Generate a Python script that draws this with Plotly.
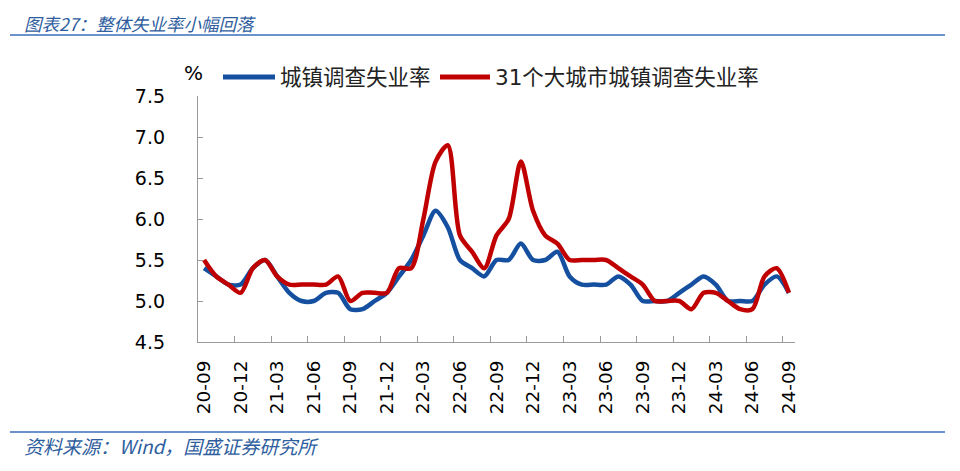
import plotly.graph_objects as go

# monthly labels 2020-09 .. 2024-09
months = [f"{y % 100:02d}-{m:02d}" for y in range(2020, 2025) for m in range(1, 13)]
months = months[months.index("20-09"):months.index("24-09") + 1]

urban_rate = [5.4, 5.3, 5.2, 5.2, 5.4, 5.5, 5.3, 5.1, 5.0, 5.0, 5.1, 5.1, 4.9, 4.9, 5.0, 5.1,
              5.3, 5.5, 5.8, 6.1, 5.9, 5.5, 5.4, 5.3, 5.5, 5.5, 5.7, 5.5, 5.5, 5.6, 5.3, 5.2,
              5.2, 5.2, 5.3, 5.2, 5.0, 5.0, 5.0, 5.1, 5.2, 5.3, 5.2, 5.0, 5.0, 5.0, 5.2, 5.3, 5.1]
city31_rate = [5.5, 5.3, 5.2, 5.1, 5.4, 5.5, 5.3, 5.2, 5.2, 5.2, 5.2, 5.3, 5.0, 5.1, 5.1, 5.1,
               5.4, 5.4, 6.0, 6.7, 6.9, 5.8, 5.6, 5.4, 5.8, 6.0, 6.7, 6.1, 5.8, 5.7, 5.5, 5.5,
               5.5, 5.5, 5.4, 5.3, 5.2, 5.0, 5.0, 5.0, 4.9, 5.1, 5.1, 5.0, 4.9, 4.9, 5.3, 5.4, 5.1]
series_names = ["城镇调查失业率", "31个大城市城镇调查失业率"]
y_ticks = [4.5, 5.0, 5.5, 6.0, 6.5, 7.0, 7.5]

tick_idx = list(range(0, len(months), 3))
tick_text = [months[i] for i in tick_idx]

# the page body adds an 8px margin, so the figure is shrunk by that much
OFF = 8
W, H = 960 - OFF, 471 - OFF
BLUE = "#1550A0"
RED = "#C00000"
CJK = "Noto Sans CJK SC"


def px(x):  # page x -> paper
    return (x - OFF) / W


def py(y):  # page y -> paper
    return 1 - (y - OFF) / H


x = list(range(len(months)))
fig = go.Figure()
for vals, name, color in [(urban_rate, series_names[0], BLUE), (city31_rate, series_names[1], RED)]:
    fig.add_trace(go.Scatter(x=x, y=vals, mode="lines", name=name, showlegend=False,
                             line=dict(color=color, width=4.5, shape="spline", smoothing=0.8)))

fig.update_layout(
    width=W, height=H, autosize=False,
    margin=dict(l=0, r=0, t=0, b=0, pad=0, autoexpand=False),
    plot_bgcolor="white", paper_bgcolor="white",
    font=dict(family=f"DejaVu Sans, {CJK}", color="#000"),
    showlegend=False,
    xaxis=dict(domain=[px(198), px(795)], range=[-0.5, len(months) - 0.5],
               tickmode="array", tickvals=tick_idx, ticktext=tick_text,
               tickangle=-90, ticks="", tickfont=dict(size=18.5), ticklabelstandoff=10,
               showline=True, linecolor="#999", linewidth=1.3, showgrid=False, zeroline=False,
               minor=dict(tickmode="array", tickvals=[i - 0.5 for i in tick_idx[1:]],
                          ticks="inside", ticklen=6, tickcolor="#999", tickwidth=1.3,
                          showgrid=False)),
    yaxis=dict(domain=[py(342), py(96)], range=[4.5, 7.5], tickmode="array",
               tickvals=y_ticks, ticktext=[f"{v:.1f}" for v in y_ticks],
               ticks="inside", ticklen=5, tickcolor="#999", tickwidth=1.3,
               tickfont=dict(size=19), ticklabelstandoff=28,
               showline=True, linecolor="#999", linewidth=1.3, showgrid=False, zeroline=False),
)

# legend drawn by hand: line sample + label
for (lx0, lx1, tx), name, color in [((223, 275, 278), series_names[0], BLUE),
                                    ((440, 490, 493), series_names[1], RED)]:
    fig.add_shape(type="line", xref="paper", yref="paper", x0=px(lx0), x1=px(lx1),
                  y0=py(77), y1=py(77), line=dict(color=color, width=5))
    fig.add_annotation(text=name, x=px(tx), y=py(77), xref="paper", yref="paper",
                       xanchor="left", yanchor="middle", showarrow=False,
                       font=dict(size=21.5, family=f"DejaVu Sans, {CJK}", color="#222"))

fig.add_annotation(text="%", x=px(193), y=py(73), xref="paper", yref="paper",
                   xanchor="center", yanchor="middle", showarrow=False, font=dict(size=20))

# header / footer
fig.add_annotation(text="<i>图表27：整体失业率小幅回落</i>", x=px(22), y=py(9),
                   xref="paper", yref="paper", xanchor="left", yanchor="top", showarrow=False,
                   font=dict(size=17.5, color="#2E5E9E", family=CJK))
fig.add_annotation(text="<i>资料来源：Wind，国盛证券研究所</i>", x=px(22), y=py(445),
                   xref="paper", yref="paper", xanchor="left", yanchor="middle", showarrow=False,
                   font=dict(size=19, color="#2E5E9E", family=CJK))
for ly in (35, 432):
    fig.add_shape(type="line", xref="paper", yref="paper", x0=px(10), x1=px(945),
                  y0=py(ly), y1=py(ly), line=dict(color="#6A93CC", width=2))

fig.write_html("out.html")
